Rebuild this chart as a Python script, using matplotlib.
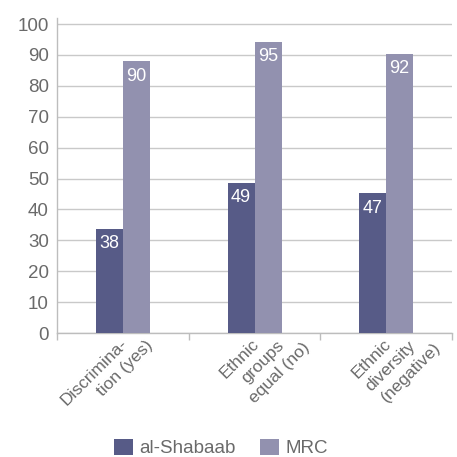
import numpy as np
import matplotlib
matplotlib.use("Agg")
import matplotlib.pyplot as plt
from matplotlib.patches import Patch
from matplotlib.transforms import offset_copy, blended_transform_factory

plt.rcParams['font.family'] = ['Liberation Sans', 'DejaVu Sans']

# ---------------------------------------------------------------
# Data (bar heights as drawn, and the printed labels)
# ---------------------------------------------------------------
categories = ["Discrimina-\ntion (yes)", "Ethnic\ngroups\nequal (no)",
              "Ethnic\ndiversity\n(negative)"]
series = ["al-Shabaab", "MRC"]
shabaab_height = [33.8, 48.7, 45.4]
mrc_height = [88.1, 94.3, 90.4]
shabaab_label = ["38", "49", "47"]
mrc_label = ["90", "95", "92"]
yticks = [0, 10, 20, 30, 40, 50, 60, 70, 80, 90, 100]

c_dark = '#575b87'
c_light = '#9291af'
c_text = '#6a6a6a'
c_grid = '#c9c9c9'

fig = plt.figure(figsize=(4.57, 4.57), dpi=100)
ax = fig.add_axes([0.125, 0.271, 0.864, 0.690])

x = np.arange(len(categories))
w = 0.205
b1 = ax.bar(x - w/2, shabaab_height, w, color=c_dark, zorder=3)
b2 = ax.bar(x + w/2, mrc_height, w, color=c_light, zorder=3)

for bars, labs in [(b1, shabaab_label), (b2, mrc_label)]:
    for rect, lab in zip(bars, labs):
        ax.annotate(lab, (rect.get_x() + rect.get_width()/2, rect.get_height()),
                    xytext=(0, -11), textcoords='offset points',
                    ha='center', va='center', color='white', fontsize=13,
                    zorder=4)

ax.set_xlim(-0.5, len(categories) - 0.5)
ax.set_ylim(0, 102)
ax.set_yticks(yticks)
ax.set_yticklabels([str(v) for v in yticks], fontsize=13.5, color=c_text)
ax.tick_params(axis='y', length=0, pad=6)
ax.yaxis.grid(True, color=c_grid, lw=1.0, zorder=0)
ax.set_axisbelow(True)

# category boundary ticks, labels placed line by line
ax.set_xticks(np.arange(len(categories) + 1) - 0.5)
ax.set_xticklabels([])
ax.tick_params(axis='x', length=5, color='#bdbdbd', width=1, direction='out')
base = blended_transform_factory(ax.transData, ax.transAxes)
for i, lab in enumerate(categories):
    for k, line in enumerate(lab.split('\n')):
        tr = offset_copy(base, fig=fig, x=(-3 + 25*k) * 0.72, y=(-3 - 2*k) * 0.72,
                         units='points')
        ax.text(i, 0, line, transform=tr, ha='right', va='top', rotation=45,
                rotation_mode='anchor', fontsize=12.5, color=c_text, clip_on=False)

for s in ['top', 'right']:
    ax.spines[s].set_visible(False)
for s in ['left', 'bottom']:
    ax.spines[s].set_color('#bdbdbd')
    ax.spines[s].set_linewidth(1.0)

handles = [Patch(facecolor=c_dark), Patch(facecolor=c_light)]
fig.legend(handles, series, loc='center', bbox_to_anchor=(221/457, 1 - 448/457),
           ncol=2, frameon=False, fontsize=13.5, handlelength=1.0,
           handleheight=0.95, handletextpad=0.32, columnspacing=1.33,
           labelcolor=c_text)

fig.savefig('out.png', dpi=100, facecolor='white')
